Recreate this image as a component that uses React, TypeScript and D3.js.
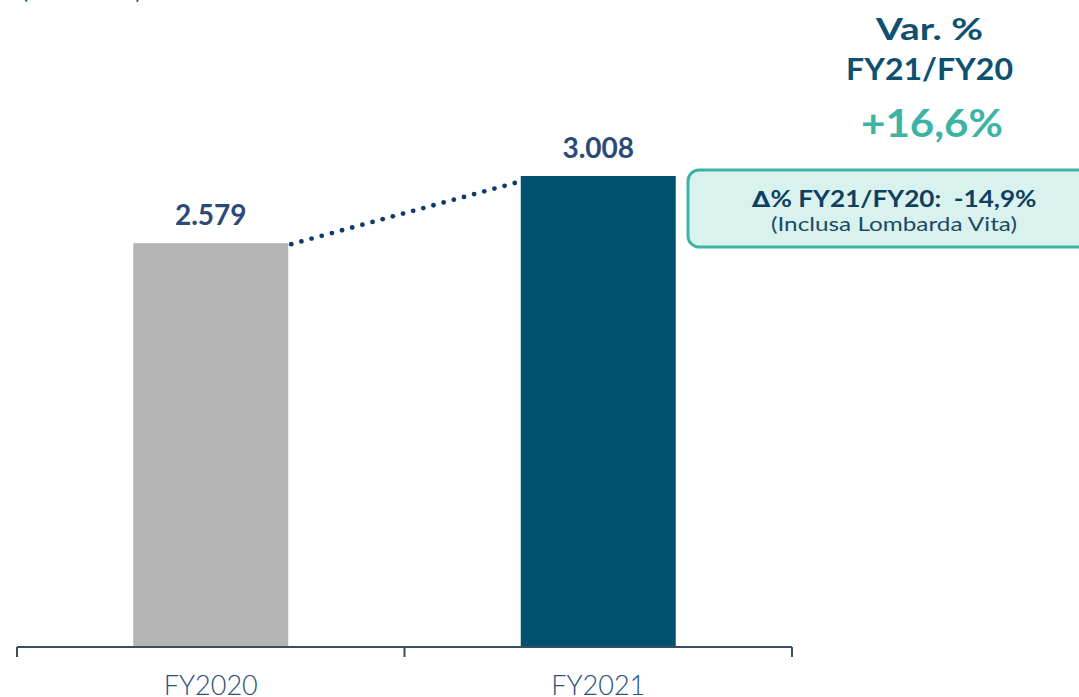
import React from "react";
import * as d3 from "d3";

const categories = ["FY2020", "FY2021"];
const values = [2579, 3008];
const valueLabels = ["2.579", "3.008"];
const barColors = ["#b3b4b3", "#00506f"];
const varTitle = ["Var. %", "FY21/FY20"];
const varValue = "+16,6%";
const boxLines = ["\u2206% FY21/FY20:\u00a0 -14,9%", "(Inclusa Lombarda Vita)"];

const W = 1079;
const H = 697;
const FONT = "'Century Gothic', Lato, Roboto, 'DejaVu Sans', sans-serif";

export default function App() {
  const baseY = 647;
  const x = d3
    .scaleBand<string>()
    .domain(categories)
    .range([17, 792])
    .paddingInner(0.6)
    .paddingOuter(0.3);
  const y = d3.scaleLinear().domain([0, 3008]).range([baseY, 176]);
  const step = x.step();
  const tickXs = [17, 17 + step, 17 + 2 * step];

  const x1 = (x(categories[0]) ?? 0) + x.bandwidth();
  const y1 = y(values[0]);
  const x2 = x(categories[1]) ?? 0;
  const y2 = y(values[1]);
  const lx1 = x1 + 3;
  const ly1 = y1 + 1;
  const lx2 = x2 - 6;
  const ly2 = y2 + 7;
  const len = Math.hypot(lx2 - lx1, ly2 - ly1);
  const nDots = Math.round(len / 10.3);
  const dots = d3.range(nDots + 1).map((i) => ({
    cx: lx1 + ((lx2 - lx1) * i) / nDots,
    cy: ly1 + ((ly2 - ly1) * i) / nDots,
  }));

  return (
    <svg
      width={W}
      height={H}
      style={{ position: "absolute", left: 0, top: 0, background: "#fff" }}
      fontFamily={FONT}
    >
      <text x={22} y={-1} fontSize={22} fill="#1a5a7a">
        (mln di euro)
      </text>

      {categories.map((c, i) => (
        <g key={c}>
          <rect
            x={x(c)}
            y={y(values[i])}
            width={x.bandwidth()}
            height={baseY - y(values[i])}
            fill={barColors[i]}
          />
          <text
            x={(x(c) ?? 0) + x.bandwidth() / 2}
            y={y(values[i]) - 18}
            textAnchor="middle"
            fontSize={28}
            fontWeight={700}
            fill="#2b4a78"
          >
            {valueLabels[i]}
          </text>
          <text
            x={(x(c) ?? 0) + x.bandwidth() / 2}
            y={695}
            textAnchor="middle"
            fontSize={27}
            fontWeight={300}
            fill="#2b4f7e"
          >
            {c}
          </text>
        </g>
      ))}

      {dots.map((d, i) => (
        <circle key={i} cx={d.cx} cy={d.cy} r={2.4} fill="#0d3a6b" />
      ))}

      <line x1={17} x2={792} y1={baseY} y2={baseY} stroke="#3a4f5e" strokeWidth={2} />
      {tickXs.map((t, i) => (
        <line key={i} x1={t} x2={t} y1={baseY} y2={baseY + 10} stroke="#3a4f5e" strokeWidth={2} />
      ))}

      <rect
        x={688}
        y={170}
        width={420}
        height={77}
        rx={11}
        ry={11}
        fill="#d9f2ee"
        stroke="#3cb4a5"
        strokeWidth={3}
      />
      <text
        x={894}
        y={207}
        textAnchor="middle"
        fontSize={22}
        fontWeight={700}
        fill="#0f3f5f"
        textLength={285}
        lengthAdjust="spacingAndGlyphs"
      >
        {boxLines[0]}
      </text>
      <text
        x={894}
        y={231}
        textAnchor="middle"
        fontSize={19}
        fill="#1a4b66"
        textLength={246}
        lengthAdjust="spacingAndGlyphs"
      >
        {boxLines[1]}
      </text>

      <text
        x={929.5}
        y={40}
        textAnchor="middle"
        fontSize={31}
        fontWeight={700}
        fill="#0d5070"
        textLength={107}
        lengthAdjust="spacingAndGlyphs"
      >
        {varTitle[0]}
      </text>
      <text
        x={929.5}
        y={80}
        textAnchor="middle"
        fontSize={31}
        fontWeight={700}
        fill="#0d5070"
        textLength={167}
        lengthAdjust="spacingAndGlyphs"
      >
        {varTitle[1]}
      </text>
      <text
        x={932}
        y={137}
        textAnchor="middle"
        fontSize={38}
        fontWeight={700}
        fill="#3cb4a5"
        textLength={142}
        lengthAdjust="spacingAndGlyphs"
      >
        {varValue}
      </text>
    </svg>
  );
}
